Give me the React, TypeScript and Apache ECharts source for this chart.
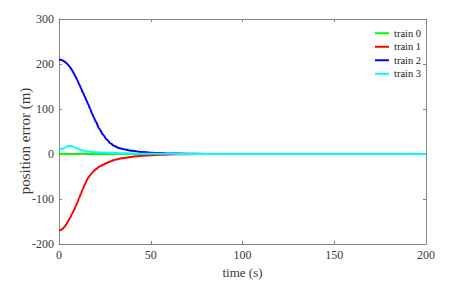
import React, { useEffect, useRef } from "react";
import * as echarts from "echarts";

const times = [0, 1, 2, 3, 4, 5, 6, 7, 8, 9, 10, 11, 12, 13, 14, 15, 16, 17, 18, 19, 20, 22, 24, 26, 28, 30, 33, 36, 40, 45, 50, 55, 60, 70, 80, 100, 120, 150, 200];
const train0 = times.map(() => 0);
const train1 = [-170, -169, -166, -162, -156, -149, -142, -134, -126, -117, -108, -98, -88, -78, -68, -60, -52, -47, -42, -38, -34, -28, -24, -20, -16.5, -13.5, -10.5, -8.5, -6, -4, -2.5, -1.8, -1, -0.4, -0.1, 0, 0, 0, 0];
const train2 = [210, 209.5, 208, 205.5, 202, 198, 193, 187, 180, 172, 164, 155, 146, 137, 128, 119, 110, 100, 90, 81, 72, 56, 43, 32, 24, 18, 13, 10, 7, 4.5, 3, 2, 1.2, 0.5, 0.2, 0, 0, 0, 0];
const train3 = [10, 11, 12, 14, 16, 17.5, 18, 17.5, 16, 14, 12, 10.5, 9, 8, 7, 6.2, 5.5, 5, 4.5, 4.2, 4, 3.5, 3.2, 2.9, 2.5, 2.2, 1.8, 1.5, 1, 0.7, 0.5, 0.4, 0.3, 0.1, 0, 0, 0, 0, 0];
const seriesNames = ["train 0", "train 1", "train 2", "train 3"];
const seriesColors = ["#00ff00", "#ff0000", "#0000ff", "#00ffff"];
const seriesValues = [train0, train1, train2, train3];
const yAxisTitle = "position error (m)";
const xAxisTitle = "time (s)";

const FONT = "Times New Roman, Liberation Serif, serif";
const AXIS_COLOR = "#858585";
const LABEL_COLOR = "#3a3a3a";

export default function App() {
  const ref = useRef<HTMLDivElement>(null);
  useEffect(() => {
    if (!ref.current) return;
    const chart = echarts.init(ref.current, undefined, { renderer: "svg" });
    const xBase = {
      type: "value" as const,
      min: 0,
      max: 200,
      interval: 50,
      splitLine: { show: false },
      axisLine: { show: true, onZero: false, lineStyle: { color: AXIS_COLOR, width: 1 } },
      axisTick: { show: true, inside: true, length: 3, lineStyle: { color: AXIS_COLOR } },
    };
    const yBase = {
      type: "value" as const,
      min: -200,
      max: 300,
      interval: 100,
      splitLine: { show: false },
      axisLine: { show: true, onZero: false, lineStyle: { color: AXIS_COLOR, width: 1 } },
      axisTick: { show: true, inside: true, length: 3, lineStyle: { color: AXIS_COLOR } },
    };
    chart.setOption({
      animation: false,
      backgroundColor: "#ffffff",
      textStyle: { fontFamily: FONT },
      grid: { left: 59, right: 24, top: 19, bottom: 40 },
      legend: {
        orient: "vertical",
        left: 370,
        top: 22,
        itemWidth: 14,
        itemHeight: 2,
        itemGap: 1,
        icon: "rect",
        textStyle: { fontFamily: FONT, fontSize: 10.5, color: "#222", lineHeight: 12.5 },
        data: seriesNames,
      },
      graphic: [
        {
          type: "text",
          x: 25,
          y: 141,
          rotation: Math.PI / 2,
          style: {
            text: yAxisTitle,
            fontFamily: FONT,
            fontSize: 15,
            fill: LABEL_COLOR,
            align: "center",
            verticalAlign: "middle",
          },
        },
      ],
      xAxis: [
        {
          ...xBase,
          position: "bottom",
          name: xAxisTitle,
          nameLocation: "middle",
          nameGap: 20,
          nameTextStyle: { fontFamily: FONT, fontSize: 13, color: LABEL_COLOR },
          axisLabel: { fontFamily: FONT, fontSize: 12, color: LABEL_COLOR, margin: 5 },
        },
        {
          ...xBase,
          position: "top",
          axisLabel: { show: false },
        },
      ],
      yAxis: [
        {
          ...yBase,
          position: "left",
          axisLabel: { fontFamily: FONT, fontSize: 12, color: LABEL_COLOR, margin: 5 },
        },
        {
          ...yBase,
          position: "right",
          axisLabel: { show: false },
        },
      ],
      series: seriesNames.map((name, i) => ({
        name,
        type: "line",
        xAxisIndex: 0,
        yAxisIndex: 0,
        data: times.map((t, j) => [t, seriesValues[i][j]]),
        smooth: 0.3,
        smoothMonotone: "x",
        showSymbol: false,
        symbol: "none",
        color: seriesColors[i],
        lineStyle: { color: seriesColors[i], width: 2 },
      })),
    });
    return () => chart.dispose();
  }, []);
  return (
    <div
      ref={ref}
      style={{ position: "fixed", left: 0, top: 0, width: 450, height: 284 }}
    />
  );
}
